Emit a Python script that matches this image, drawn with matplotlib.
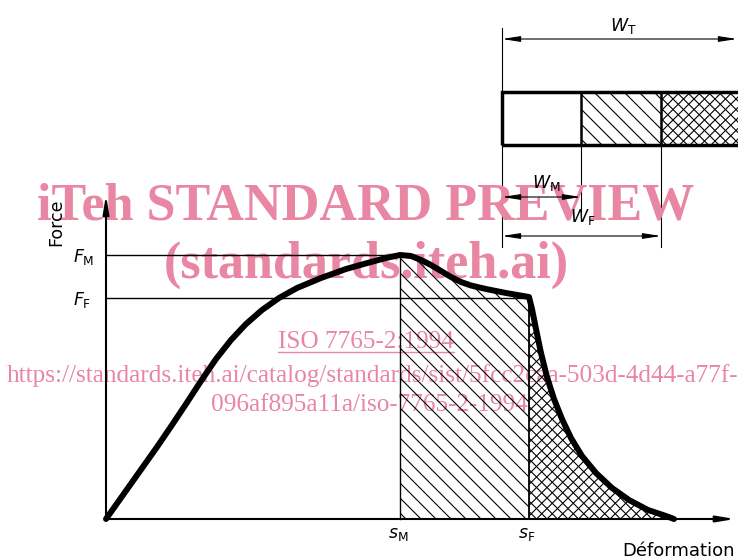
import numpy as np
import matplotlib
matplotlib.use('Agg')
import matplotlib.pyplot as plt
from matplotlib.patches import Polygon, Rectangle

plt.rcParams['mathtext.fontset'] = 'dejavusans'

# force / deformation curve (arbitrary units)
deformation = [0.0, 1.7, 3.4, 5.1, 6.6, 8.0, 9.5, 11.0, 12.5, 14.0, 15.6, 17.3, 19.1,
               21.5, 24.0, 26.5, 28.0, 29.4,
               30.5, 31.5, 32.5, 33.5, 34.5, 35.5, 36.5, 38.0, 40.0, 42.3,
               42.6, 43.0, 43.5, 44.1, 44.8, 45.6, 46.5, 47.6, 49.0, 50.6, 52.3,
               54.2, 56.0, 56.8]
force = [0.0, 2.4, 4.8, 7.2, 9.4, 11.5, 13.8, 16.0, 17.9, 19.5, 20.9, 22.1, 23.1,
         24.1, 25.0, 25.7, 26.1, 26.4,
         26.3, 25.9, 25.4, 24.8, 24.2, 23.7, 23.35, 23.0, 22.6, 22.2,
         21.0, 19.0, 16.6, 14.2, 12.0, 10.0, 8.1, 6.3, 4.6, 3.1, 1.9,
         0.9, 0.3, 0.0]
s_M, s_F = 29.4, 42.3
F_M, F_F = 26.4, 22.1

# energy bar (lengths)
w_M = 7.9
w_F = 15.9
w_T = 25.0

watermark_big = ['iTeh STANDARD PREVIEW', '(standards.iteh.ai)']
watermark_small = ['ISO 7765-2:1994',
                   'https://standards.iteh.ai/catalog/standards/sist/5fcc2caa-503d-4d44-a77f-',
                   '096af895a11a/iso-7765-2-1994']

pink = '#e886a4'


def hatch(ax, xs, ys, spacing, dirs):
    poly = Polygon(np.column_stack([xs, ys]), closed=True, fill=False, lw=0)
    ax.add_patch(poly)
    x0, x1 = min(xs), max(xs)
    y0, y1 = min(ys), max(ys)
    for d in dirs:
        cs = [y - d * x for x in (x0, x1) for y in (y0, y1)]
        for c in np.arange(np.floor(min(cs) / spacing) * spacing, max(cs) + spacing, spacing):
            ln, = ax.plot([x0, x1], [d * x0 + c, d * x1 + c], color='black', lw=0.8, zorder=3)
            ln.set_clip_path(poly)


def dim(ax, x0, x1, y):
    ax.annotate('', xy=(x1, y), xytext=(x0, y),
                arrowprops=dict(arrowstyle='<|-|>,head_length=0.9,head_width=0.14',
                                color='black', lw=0.8, shrinkA=0, shrinkB=0,
                                mutation_scale=12))


fig = plt.figure(figsize=(7.38, 5.6), dpi=100)
ax = fig.add_axes([0, 0, 1, 1])
ax.set_xlim(-10.6, 63.2)
ax.set_ylim(-4.1, 51.9)
ax.axis('off')

x = np.array(deformation)
y = np.array(force)

# hatched areas under the curve
m1 = (x >= s_M) & (x <= s_F)
hatch(ax, list(x[m1]) + [s_F, s_M], list(y[m1]) + [0, 0], 1.5, [-1])
m2 = x >= s_F
hatch(ax, list(x[m2]) + [s_F], list(y[m2]) + [0], 1.05, [-1, 1])

# reference lines
ax.plot([0, s_M], [F_M, F_M], color='black', lw=1.0, zorder=4)
ax.plot([0, s_F], [F_F, F_F], color='black', lw=1.0, zorder=4)
ax.plot([s_M, s_M], [0, F_M], color='black', lw=1.0, zorder=4)
ax.plot([s_F, s_F], [0, F_F], color='black', lw=1.3, zorder=4)

# axes
ax.annotate('', xy=(62.9, 0), xytext=(0, 0),
            arrowprops=dict(arrowstyle='-|>,head_length=0.9,head_width=0.15', color='black',
                            lw=1.5, shrinkA=0, shrinkB=0, mutation_scale=12))
ax.annotate('', xy=(0, 32.4), xytext=(0, 0),
            arrowprops=dict(arrowstyle='-|>,head_length=0.9,head_width=0.15', color='black',
                            lw=1.5, shrinkA=0, shrinkB=0, mutation_scale=12))

# the curve
ax.plot(x, y, color='black', lw=4.3, solid_capstyle='round', solid_joinstyle='round', zorder=5)

# labels
ax.text(-5.0, 29.7, 'Force', rotation=90, fontsize=12.5, ha='center', va='center')
ax.text(57.2, -3.2, 'Déformation', fontsize=13, ha='center', va='center')
ax.text(-3.3, 26.2, r'$F_{\mathrm{M}}$', fontsize=12.5, ha='left', va='center')
ax.text(-3.3, 21.9, r'$F_{\mathrm{F}}$', fontsize=12.5, ha='left', va='center')
ax.text(28.2, -1.5, r'$s_{\mathrm{M}}$', fontsize=12.5, ha='left', va='center')
ax.text(41.2, -1.5, r'$s_{\mathrm{F}}$', fontsize=12.5, ha='left', va='center')

# energy bar
b0 = 39.6
bar_bot, bar_top = 37.4, 42.7
hatch(ax, [b0 + w_M, b0 + w_F, b0 + w_F, b0 + w_M], [bar_bot, bar_bot, bar_top, bar_top], 1.5, [-1])
hatch(ax, [b0 + w_F, b0 + w_T, b0 + w_T, b0 + w_F], [bar_bot, bar_bot, bar_top, bar_top], 1.05, [-1, 1])
ax.add_patch(Rectangle((b0, bar_bot), w_T, bar_top - bar_bot, fill=False, lw=2.5,
                       edgecolor='black', zorder=6))
ax.plot([b0 + w_M, b0 + w_M], [bar_bot, bar_top], color='black', lw=1.8, zorder=6)
ax.plot([b0 + w_F, b0 + w_F], [bar_bot, bar_top], color='black', lw=1.8, zorder=6)

# dimension lines
ax.plot([b0, b0], [bar_top, 49.1], color='black', lw=0.8)
ax.plot([b0, b0], [27.2, bar_bot], color='black', lw=0.8)
ax.plot([b0 + w_M, b0 + w_M], [30.7, bar_bot], color='black', lw=0.8)
ax.plot([b0 + w_F, b0 + w_F], [27.2, bar_bot], color='black', lw=0.8)
dim(ax, b0, 63.1, 48.0)
dim(ax, b0, b0 + w_M, 32.2)
dim(ax, b0, b0 + w_F, 28.3)
ax.text(50.4, 49.3, r'$W_{\mathrm{T}}$', fontsize=12.5, ha='left', va='center')
ax.text(42.6, 33.6, r'$W_{\mathrm{M}}$', fontsize=12.5, ha='left', va='center')
ax.text(46.4, 30.2, r'$W_{\mathrm{F}}$', fontsize=12.5, ha='left', va='center')

# watermark
ax.text(26.0, 29.9, watermark_big[0], fontsize=37.5, fontweight='bold', family='Liberation Serif',
        color=pink, ha='center', va='baseline', zorder=2)
ax.text(26.0, 24.1, watermark_big[1], fontsize=37.5, fontweight='bold', family='Liberation Serif',
        color=pink, ha='center', va='baseline', zorder=2)
iso = ax.text(26.0, 17.1, watermark_small[0], fontsize=18.2, family='Liberation Serif',
              color=pink, ha='center', va='baseline', zorder=2)
ax.text(26.6, 13.7, watermark_small[1], fontsize=18.2, family='Liberation Serif',
        color=pink, ha='center', va='baseline', zorder=2)
ax.text(26.3, 10.8, watermark_small[2], fontsize=18.2, family='Liberation Serif',
        color=pink, ha='center', va='baseline', zorder=2)

fig.canvas.draw()
bb = iso.get_window_extent(fig.canvas.get_renderer()).transformed(ax.transData.inverted())
ax.plot([bb.x0, bb.x1], [16.72, 16.72], color=pink, lw=1.0, zorder=2)

fig.savefig('out.png', dpi=100)
